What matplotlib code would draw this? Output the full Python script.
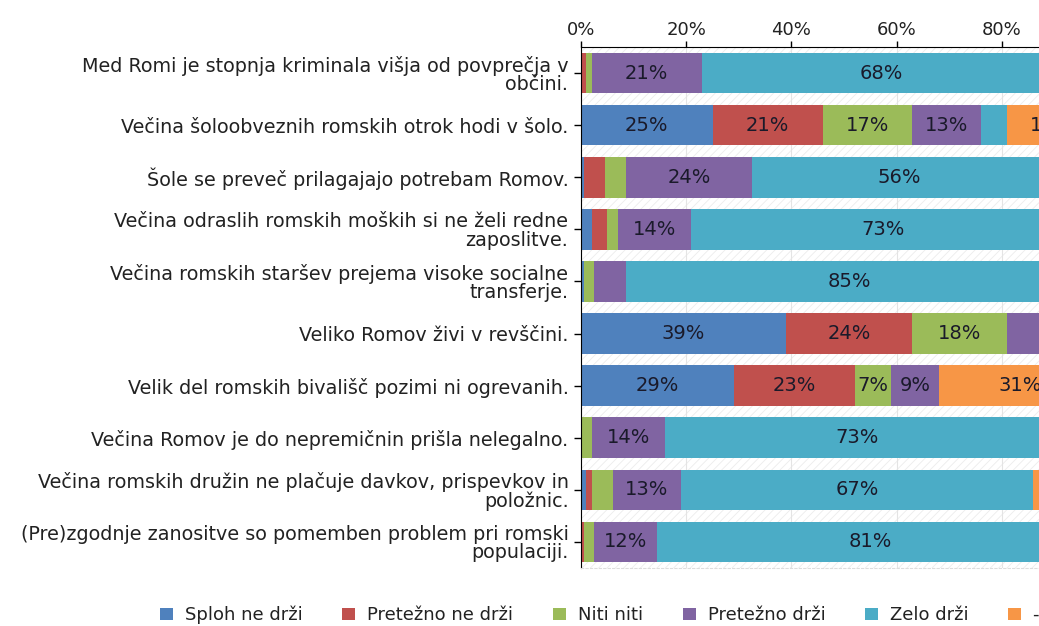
import numpy as np
import matplotlib
matplotlib.use("Agg")
import matplotlib.pyplot as plt
from matplotlib.patches import Rectangle

# statements (top to bottom)
statements = [
    "Med Romi je stopnja kriminala višja od povprečja v\nobčini.",
    "Večina šoloobveznih romskih otrok hodi v šolo.",
    "Šole se preveč prilagajajo potrebam Romov.",
    "Večina odraslih romskih moških si ne želi redne\nzaposlitve.",
    "Večina romskih staršev prejema visoke socialne\ntransferje.",
    "Veliko Romov živi v revščini.",
    "Velik del romskih bivališč pozimi ni ogrevanih.",
    "Večina Romov je do nepremičnin prišla nelegalno.",
    "Večina romskih družin ne plačuje davkov, prispevkov in\npoložnic.",
    "(Pre)zgodnje zanositve so pomemben problem pri romski\npopulaciji.",
]

series_names = ["Sploh ne drži", "Pretežno ne drži", "Niti niti",
                "Pretežno drži", "Zelo drži", "- ne vem"]

splosh_ne = [0, 25, 0.5, 2, 0.5, 39, 29, 0, 1, 0]
pretezno_ne = [1, 21, 4, 3, 0, 24, 23, 0, 1, 0.5]
niti_niti = [1, 17, 4, 2, 2, 18, 7, 2, 4, 2]
pretezno_drzi = [21, 13, 24, 14, 6, 6.5, 9, 14, 13, 12]
zelo_drzi = [68, 5, 56, 73, 85, 11, 0, 73, 67, 81]
ne_vem = [9, 17, 11, 6, 6, 1, 31, 11, 14, 4]

colors = ["#4F81BD", "#C0504D", "#9BBB59", "#8064A2", "#4BACC6", "#F79646"]

values = [splosh_ne, pretezno_ne, niti_niti, pretezno_drzi, zelo_drzi, ne_vem]

fig = plt.figure(figsize=(10.39, 6.26), dpi=100)
ax = fig.add_axes([581 / 1039, 1 - 568 / 626, 526 / 1039, 521 / 626])

y = np.arange(len(statements))
left = np.zeros(len(statements))
plt.rcParams['hatch.linewidth'] = 0.6
ax.add_patch(Rectangle((0, -0.5), 1, 10, facecolor="white",
                       edgecolor="#ececec", hatch="////", lw=0, zorder=0))

for name, vals, col in zip(series_names, values, colors):
    vals = np.array(vals, dtype=float) / 100
    ax.barh(y, vals, left=left, height=0.78, color=col, label=name, zorder=2)
    for yi, l, v in zip(y, left, vals):
        if v >= 0.07:
            ax.text(l + v / 2, yi, "{:.0f}%".format(v * 100), ha="center",
                    va="center", fontsize=14, color="#1a1a2a", zorder=3)
    left += vals

ax.set_xlim(0, 1)
ax.set_ylim(9.5, -0.5)
ax.xaxis.tick_top()
ticks = np.arange(0, 1.01, 0.2)
ax.set_xticks(ticks)
ax.set_xticklabels(["{}%".format(int(round(t * 100))) for t in ticks],
                   fontsize=13, color="#222222")
ax.set_yticks(y)
ax.set_yticklabels(statements, fontsize=13.8, color="#222222",
                   linespacing=0.95)
ax.tick_params(axis="x", direction="out", length=4.5, width=1, pad=1.5)
ax.tick_params(axis="y", direction="out", length=5, width=1, pad=4)
ax.xaxis.grid(True, color="#e4e4e4", lw=0.8, zorder=1)
ax.set_axisbelow(True)

ax.spines["right"].set_visible(False)
ax.spines["left"].set_color("black")
ax.spines["top"].set_color("black")
ax.spines["bottom"].set_color("#dddddd")
ax.spines["bottom"].set_linestyle((0, (2, 2)))

fig.legend(loc="center left", bbox_to_anchor=(160 / 1039, 1 - 615 / 626),
           ncol=6, frameon=False, fontsize=13, handlelength=0.72,
           handleheight=0.72, columnspacing=2.2, handletextpad=0.66,
           borderpad=0, borderaxespad=0, labelcolor="#222222")

fig.savefig("out.png", dpi=100)
